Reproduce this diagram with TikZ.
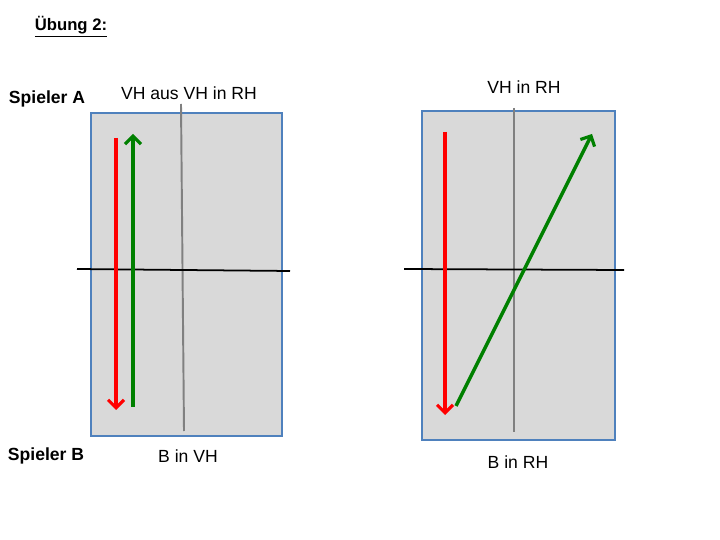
\documentclass[tikz,border=0pt]{standalone}
\usepackage{fontspec}
\setmainfont{Liberation Sans}
\usetikzlibrary{arrows.meta, positioning}
\definecolor{courtblue}{RGB}{79, 129, 189}
\definecolor{courtgray}{RGB}{217, 217, 217}
\definecolor{centergray}{RGB}{128, 128, 128}
\definecolor{shotred}{RGB}{255, 0, 0}
\definecolor{shotgreen}{RGB}{0, 128, 0}

\begin{document}
\begin{tikzpicture}[x=0.02cm, y=-0.02cm,
  court/.style={draw=courtblue, fill=courtgray, line width=0.9pt, inner sep=0pt},
  centerline/.style={draw=centergray, line width=1.1pt},
  netline/.style={draw=black, line width=1pt},
  shot/.style={-{Straight Barb[length=4.5pt, width=9pt, line width=1.8pt]}, line width=2pt},
  caption/.style={font=\fontsize{10}{12}\selectfont, inner sep=1pt},
  player/.style={font=\fontsize{10}{12}\selectfont\bfseries, inner sep=1pt}
]
\useasboundingbox (0,0) rectangle (720,540);

% Title
\node[font=\fontsize{9.5}{11}\selectfont\bfseries, inner sep=1pt] (title) at (71,27) {\underline{Übung 2:}};

% Players
\node[player] (spa) at (47,99) {Spieler A};
\node[player] (spb) at (46,456) {Spieler B};

% Left court
\node[court, minimum width=3.82cm, minimum height=6.46cm] (courtL) at (186.5,274.5) {};
\coordinate (cLtop) at (181,104);
\coordinate (cLbot) at (184,431);
\coordinate (nLw) at (77,269);
\coordinate (nLe) at (290,271);
\draw[centerline] (cLtop) -- (cLbot);
\draw[netline] (nLw) -- (nLe);

% Right court
\node[court, minimum width=3.86cm, minimum height=6.58cm] (courtR) at (518.5,275.5) {};
\coordinate (cRtop) at (514,108);
\coordinate (cRbot) at (514,432);
\coordinate (nRw) at (404,269);
\coordinate (nRe) at (624,270);
\draw[centerline] (cRtop) -- (cRbot);
\draw[netline] (nRw) -- (nRe);

% Labels
\node[caption] (capLtop) at (189,93) {VH aus VH in RH};
\node[caption] (capLbot) at (188,456) {B in VH};
\node[caption] (capRtop) at (524,87) {VH in RH};
\node[caption] (capRbot) at (518,462) {B in RH};

% Shots left
\coordinate (rLs) at (116,138);
\coordinate (rLe) at (116,410);
\coordinate (gLs) at (133,407);
\coordinate (gLe) at (133,134);
\draw[shot, shotred] (rLs) -- (rLe);
\draw[shot, shotgreen] (gLs) -- (gLe);

% Shots right
\coordinate (rRs) at (445,132);
\coordinate (rRe) at (445,415);
\coordinate (gRs) at (456,406);
\coordinate (gRe) at (592,134);
\draw[shot, shotred] (rRs) -- (rRe);
\draw[shot, shotgreen] (gRs) -- (gRe);

\end{tikzpicture}
\end{document}
